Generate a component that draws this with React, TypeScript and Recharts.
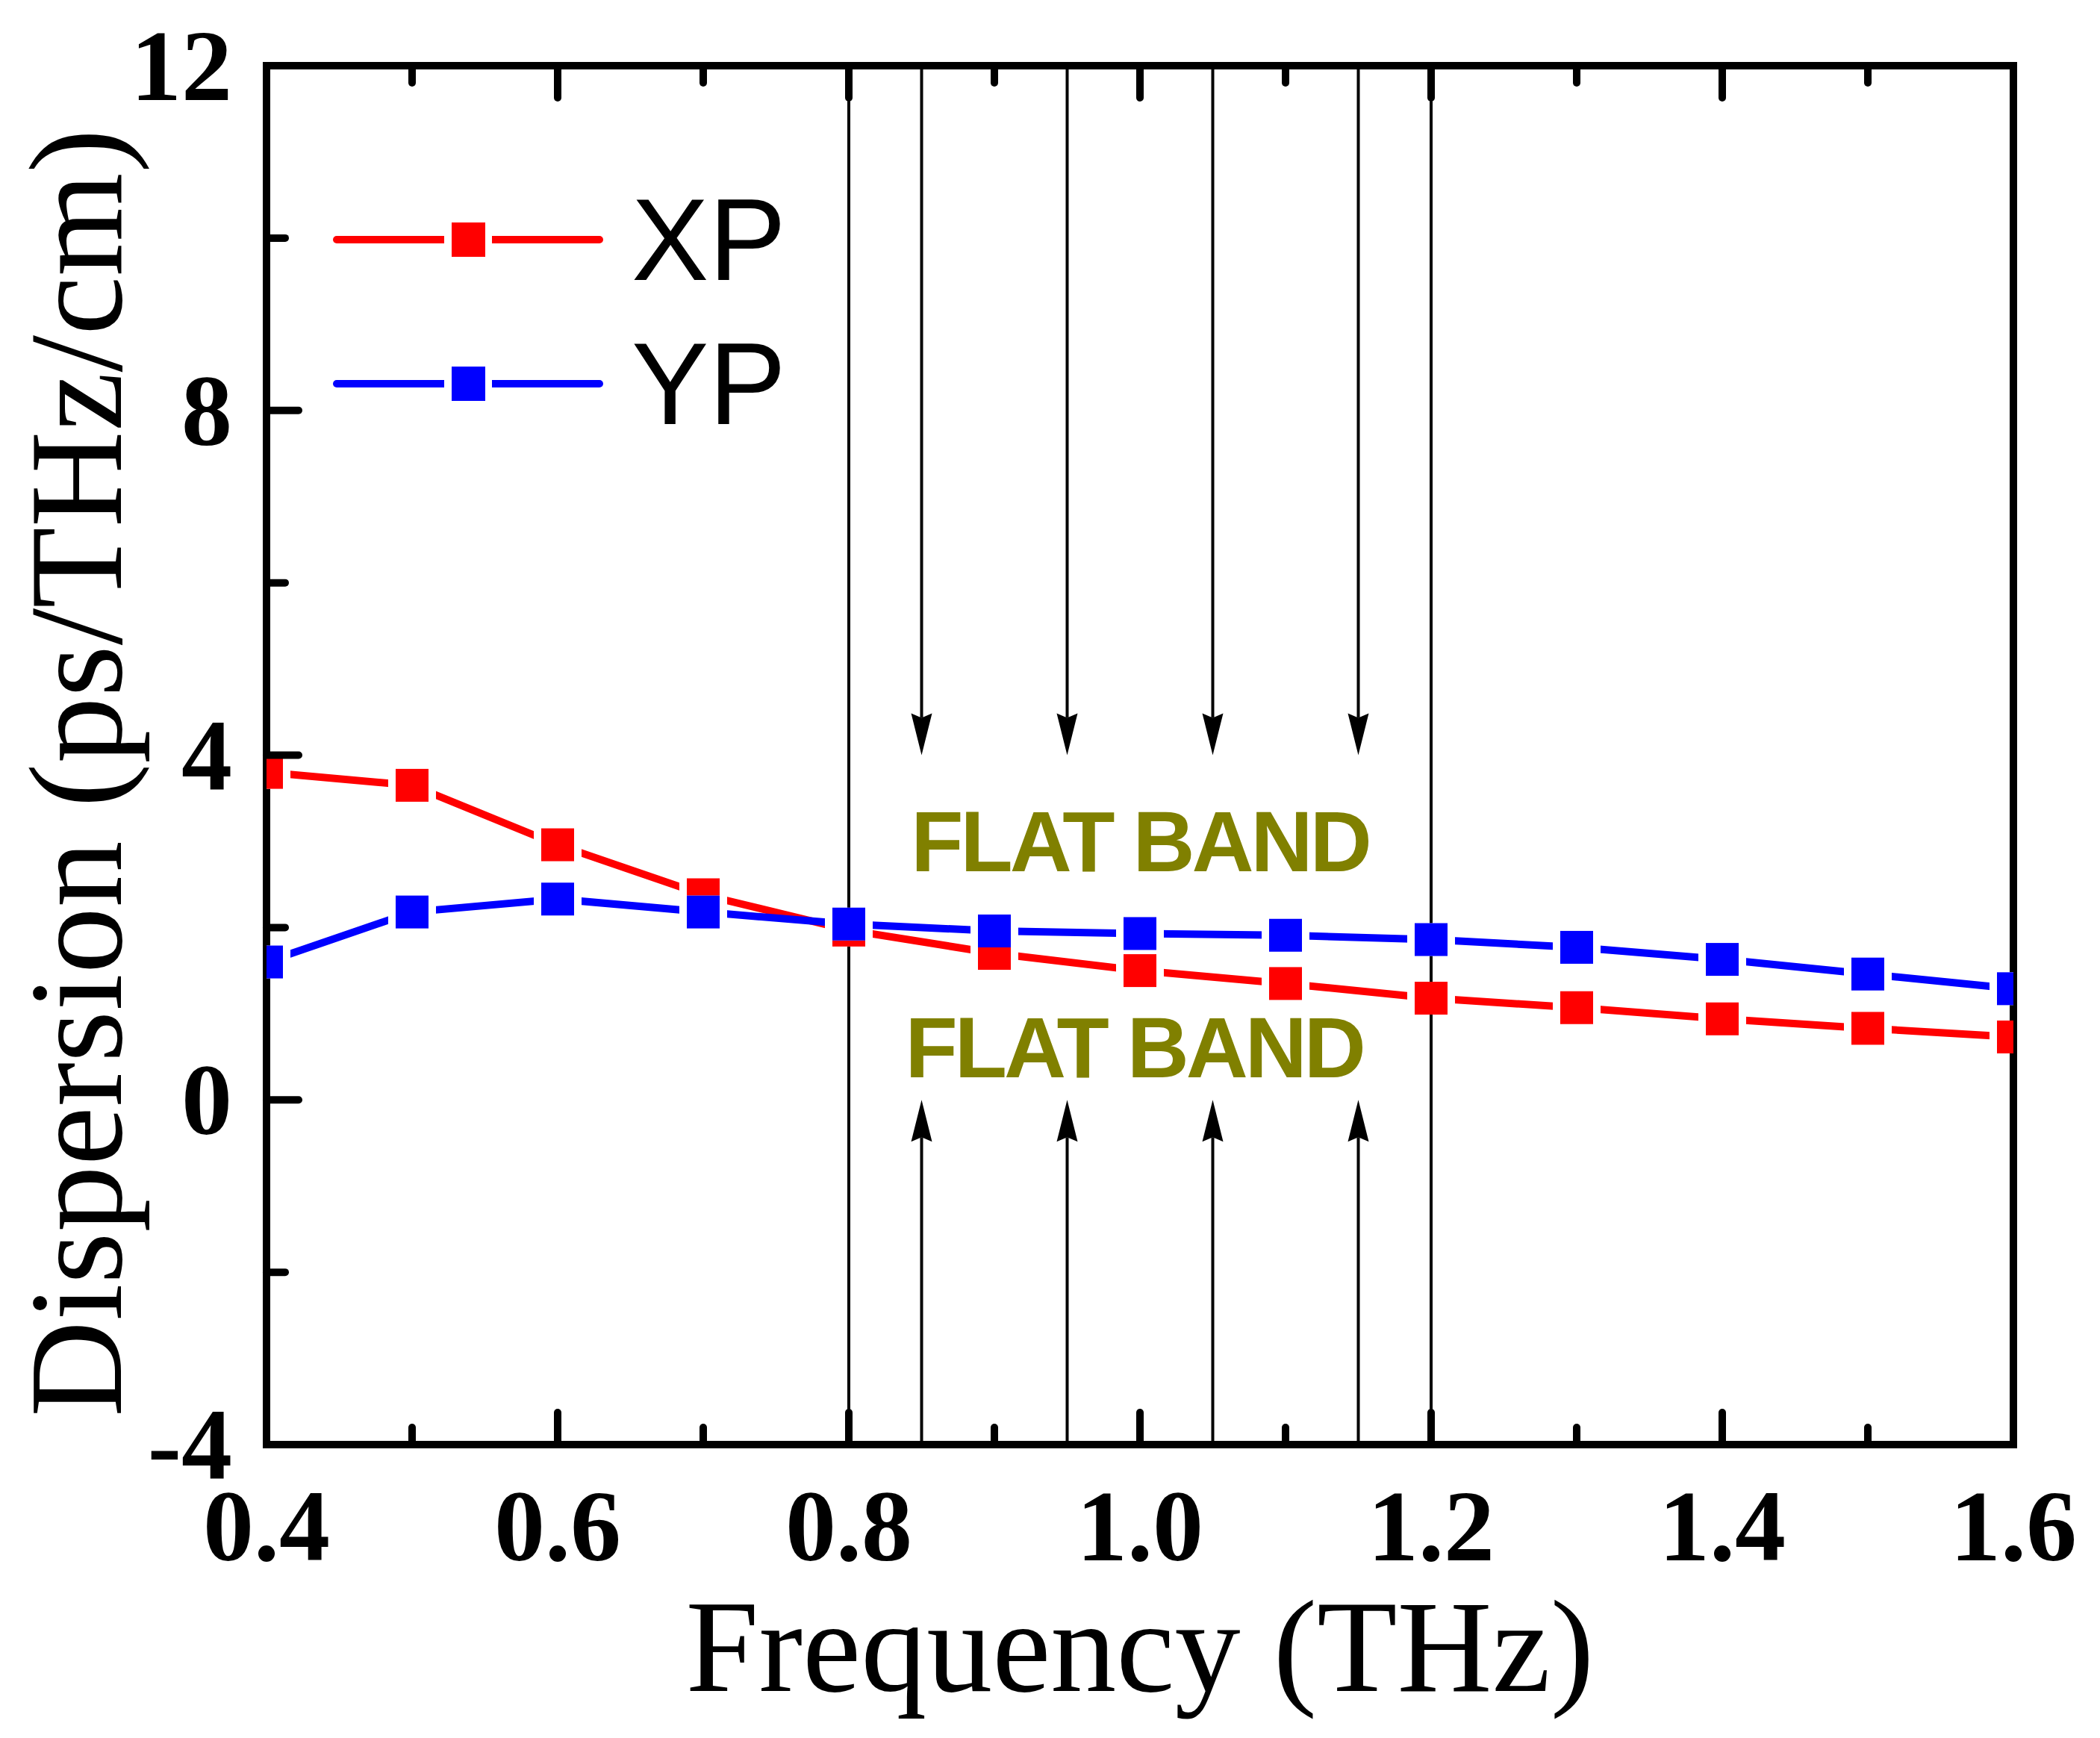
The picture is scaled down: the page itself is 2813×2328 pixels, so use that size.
import { LineChart, Line, XAxis, YAxis, ReferenceLine, ReferenceDot, Legend, Label } from 'recharts';

// frequency points (THz)
const FREQ = [0.4, 0.5, 0.6, 0.7, 0.8, 0.9, 1.0, 1.1, 1.2, 1.3, 1.4, 1.5, 1.6];
// dispersion (ps/THz/cm)
const XP = [3.8, 3.65, 2.96, 2.38, 1.97, 1.7, 1.5, 1.35, 1.18, 1.07, 0.94, 0.83, 0.73];
const YP = [1.6, 2.18, 2.33, 2.18, 2.04, 1.96, 1.93, 1.91, 1.86, 1.77, 1.63, 1.46, 1.29];

const X_TICKS = [0.4, 0.5, 0.6, 0.7, 0.8, 0.9, 1.0, 1.1, 1.2, 1.3, 1.4, 1.5, 1.6];
const X_TICK_LABELS = ['0.4', '', '0.6', '', '0.8', '', '1.0', '', '1.2', '', '1.4', '', '1.6'];
const Y_TICKS = [-4, -2, 0, 2, 4, 6, 8, 10, 12];
const Y_TICK_LABELS = ['-4', '', '0', '', '4', '', '8', '', '12'];

// flat band annotation
const BAND_EDGES = [0.8, 1.2];
const ARROW_X = [0.85, 0.95, 1.05, 1.15];
const ARROW_DOWN = [12, 4];
const ARROW_UP = [-4, 0];
const BAND_LABELS = [
  { x: 1.0, y: 2.65, text: 'FLAT BAND' },
  { x: 0.996, y: 0.26, text: 'FLAT BAND' },
];

const RED = '#ff0000';
const BLUE = '#0000ff';
const OLIVE = '#808000';
const SERIF = "'Liberation Serif', 'Times New Roman', serif";
const SANS = "'Liberation Sans', Arial, sans-serif";

const data = FREQ.map((f, i) => ({ freq: f, XP: XP[i], YP: YP[i] }));

const W = 2813;
const H = 2328;
const MARGIN = { top: 87, right: 115, bottom: 193, left: 157 };

const square = (p: any, color: string) => {
  const { cx, cy, index } = p;
  if (cx == null || cy == null) return <g key={`d-${index}`} />;
  return (
    <g key={`d-${index}`}>
      <rect x={cx - 32} y={cy - 22} width={64} height={44} fill="#fff" />
      <rect x={cx - 22} y={cy - 22} width={44} height={44} fill={color} />
    </g>
  );
};

const tickLine = (x1: number, y1: number, x2: number, y2: number) => (
  <line x1={x1} y1={y1} x2={x2} y2={y2} stroke="#000" strokeWidth={10} strokeLinecap="round" />
);

const bottomTick = (p: any) => {
  const label = X_TICK_LABELS[p.index];
  const len = label ? 43 : 23;
  return (
    <g key={`bt-${p.index}`}>
      {tickLine(p.x, p.y, p.x, p.y - len)}
      {label && (
        <text x={p.x} y={p.y + 155} textAnchor="middle" fontFamily={SERIF} fontWeight="bold" fontSize={136} fill="#000">
          {label}
        </text>
      )}
    </g>
  );
};

const topTick = (p: any) => {
  const len = X_TICK_LABELS[p.index] ? 43 : 23;
  return <g key={`tt-${p.index}`}>{tickLine(p.x, p.y, p.x, p.y + len)}</g>;
};

const leftTick = (p: any) => {
  const label = Y_TICK_LABELS[p.index];
  const len = label ? 43 : 25;
  return (
    <g key={`lt-${p.index}`}>
      {tickLine(p.x, p.y, p.x + len, p.y)}
      {label && (
        <text x={p.x - 46} y={p.y + 46} textAnchor="end" fontFamily={SERIF} fontWeight="bold" fontSize={136} fill="#000">
          {label}
        </text>
      )}
    </g>
  );
};

const rightTick = (p: any) => {
  const len = Y_TICK_LABELS[p.index] ? 43 : 25;
  return <g key={`rt-${p.index}`}>{tickLine(p.x, p.y, p.x - len, p.y)}</g>;
};

const arrowShape = (p: any) => {
  const { x1, y1, x2, y2 } = p;
  const dir = y2 > y1 ? 1 : -1;
  const head = 56;
  const half = 14;
  return (
    <g>
      <line x1={x1} y1={y1} x2={x2} y2={y2 - dir * (head - 6)} stroke="#000" strokeWidth={4} />
      <polygon
        points={`${x2},${y2} ${x2 - half},${y2 - dir * head} ${x2},${y2 - dir * (head - 6)} ${x2 + half},${y2 - dir * head}`}
        fill="#000"
      />
    </g>
  );
};

const bandText = (text: string) => (p: any) => (
  <text x={p.cx} y={p.cy} textAnchor="middle" fontFamily={SANS} fontWeight="bold" fontSize={115} letterSpacing={-4} fill={OLIVE}>
    {text}
  </text>
);

const LEGEND_Y = [321, 514];
const renderLegend = (props: any) => {
  const items = props.payload || [];
  return (
    <svg width={1100} height={700} style={{ display: 'block' }}>
      {items.map((it: any, i: number) => {
        const y = LEGEND_Y[i];
        return (
          <g key={it.value}>
            <line x1={451} y1={y} x2={803} y2={y} stroke={it.color} strokeWidth={10} strokeLinecap="round" />
            <rect x={595} y={y - 22} width={64} height={44} fill="#fff" />
            <rect x={605} y={y - 23} width={45} height={46} fill={it.color} />
            <text x={846} y={y + 54} fontFamily={SANS} fontSize={155} fill="#000">
              {it.value}
            </text>
          </g>
        );
      })}
    </svg>
  );
};

const xTitle = () => (
  <text x={1527} y={2265} textAnchor="middle" fontFamily={SERIF} fontSize={176} fill="#000">
    Frequency (THz)
  </text>
);

const yTitle = () => (
  <text x={162} y={1035} transform="rotate(-90, 162, 1035)" textAnchor="middle" fontFamily={SERIF} fontSize={178} fill="#000">
    Dispersion (ps/THz/cm)
  </text>
);

const axisLine = { stroke: '#000', strokeWidth: 10, strokeLinecap: 'square' as const };

export default function App() {
  return (
    <div style={{ position: 'absolute', left: 0, top: 0, width: W, height: H, background: '#fff' }}>
      <LineChart width={W} height={H} data={data} margin={MARGIN}>
        <XAxis
          dataKey="freq"
          type="number"
          domain={[0.4, 1.6]}
          ticks={X_TICKS}
          interval={0}
          allowDataOverflow
          height={200}
          tickSize={0}
          tickMargin={0}
          tickLine={false}
          axisLine={axisLine}
          tick={bottomTick}
        >
          <Label content={xTitle} />
        </XAxis>
        <XAxis
          xAxisId="top"
          orientation="top"
          dataKey="freq"
          type="number"
          domain={[0.4, 1.6]}
          ticks={X_TICKS}
          interval={0}
          height={1}
          tickSize={0}
          tickMargin={0}
          tickLine={false}
          axisLine={axisLine}
          tick={topTick}
        />
        <YAxis
          type="number"
          domain={[-4, 12]}
          ticks={Y_TICKS}
          interval={0}
          allowDataOverflow
          width={200}
          tickSize={0}
          tickMargin={0}
          tickLine={false}
          axisLine={axisLine}
          tick={leftTick}
        >
          <Label content={yTitle} />
        </YAxis>
        <YAxis
          yAxisId="right"
          orientation="right"
          type="number"
          domain={[-4, 12]}
          ticks={Y_TICKS}
          interval={0}
          width={1}
          tickSize={0}
          tickMargin={0}
          tickLine={false}
          axisLine={axisLine}
          tick={rightTick}
        />
        <Legend
          layout="vertical"
          align="center"
          verticalAlign="middle"
          wrapperStyle={{ left: 0, top: 0, width: 1100, height: 700 }}
          content={renderLegend}
        />
        <Line
          dataKey="XP"
          name="XP"
          stroke={RED}
          strokeWidth={10}
          strokeLinecap="round"
          dot={(p: any) => square(p, RED)}
          activeDot={false}
          isAnimationActive={false}
        />
        <Line
          dataKey="YP"
          name="YP"
          stroke={BLUE}
          strokeWidth={10}
          strokeLinecap="round"
          dot={(p: any) => square(p, BLUE)}
          activeDot={false}
          isAnimationActive={false}
        />
        {BAND_EDGES.map((x) => (
          <ReferenceLine key={`edge-${x}`} x={x} stroke="#000" strokeWidth={4} />
        ))}
        {ARROW_X.map((x) => (
          <ReferenceLine
            key={`down-${x}`}
            segment={[{ x, y: ARROW_DOWN[0] }, { x, y: ARROW_DOWN[1] }]}
            shape={arrowShape}
          />
        ))}
        {ARROW_X.map((x) => (
          <ReferenceLine
            key={`up-${x}`}
            segment={[{ x, y: ARROW_UP[0] }, { x, y: ARROW_UP[1] }]}
            shape={arrowShape}
          />
        ))}
        {BAND_LABELS.map((b, i) => (
          <ReferenceDot key={`band-${i}`} x={b.x} y={b.y} r={0} shape={bandText(b.text)} />
        ))}
      </LineChart>
    </div>
  );
}
